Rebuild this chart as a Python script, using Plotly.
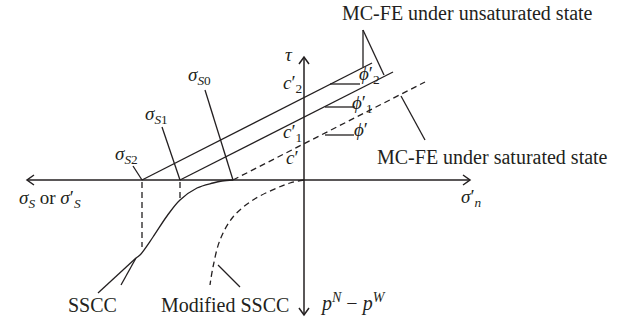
import plotly.graph_objects as go

# Diagram drawn in a pixel frame (x right, y down) matching the 633x321 picture
W, H = 633, 321

# axes
h_axis_x = [27, 470]
h_axis_y = [180, 180]
v_axis_x = [304, 304]
v_axis_y = [57, 315]

# failure envelopes (MC-FE)
upper_x = [142, 372]
upper_y = [180, 63]
middle_x = [180, 393]
middle_y = [180, 72]
sat_x = [233, 425]
sat_y = [180, 82]

# soil suction characteristic curves
sscc_x = [233, 222, 213, 197, 180, 167, 153, 140, 136]
sscc_y = [180, 181, 183, 188, 200, 216, 237, 255, 258]
sscc_tail_x = [136, 98]
sscc_tail_y = [258, 293]
mod_sscc_x = [304, 290, 277, 253, 233, 220, 213, 210]
mod_sscc_y = [180, 183, 188, 200, 217, 240, 267, 285]

# friction angle reference ticks
phi2_x, phi2_y = [330, 360], [84, 84]
phi1_x, phi1_y = [325, 355], [107, 107]
phi0_x, phi0_y = [325, 354], [135, 135]

# drop lines from sigma_S points
drop2_x, drop2_y = [142, 142], [182, 247]
drop1_x, drop1_y = [180, 180], [182, 200]

# leader lines
leaders = [
    ([205, 233], [90, 180]),      # sigma_S0
    ([162, 180], [127, 180]),     # sigma_S1
    ([133, 142], [166, 180]),     # sigma_S2
    ([136, 121], [258, 285]),     # SSCC
    ([218, 240], [265, 287]),     # Modified SSCC
    ([401, 425], [96, 140]),      # saturated state
    ([363, 363], [30, 67]),       # unsaturated state (vertical)
    ([363, 384], [30, 75]),       # unsaturated state (diagonal)
]

# arrow heads (open, drawn as two strokes)
arrows = [
    ([34, 27, 34], [175, 180, 185]),
    ([463, 470, 463], [175, 180, 185]),
    ([299, 304, 309], [64, 57, 64]),
    ([299, 304, 309], [308, 315, 308]),
]

# (text, x, y, size)
labels = [
    ("MC-FE under unsaturated state", 467, 13, 20),
    ("MC-FE under saturated state", 492, 157, 20),
    ("<i>σ</i><sub><i>S</i>0</sub>", 199, 76, 19),
    ("<i>σ</i><sub><i>S</i>1</sub>", 156, 115, 19),
    ("<i>σ</i><sub><i>S</i>2</sub>", 126, 155, 19),
    ("<i>τ</i>", 289, 54, 19),
    ("<i>c</i>′<sub>2</sub>", 292, 84, 19),
    ("<i>c</i>′<sub>1</sub>", 292, 133, 19),
    ("<i>c</i>′", 292, 157, 19),
    ("<i>ϕ</i>′<sub>2</sub>", 369, 75, 19),
    ("<i>ϕ</i>′<sub>1</sub>", 362, 104, 19),
    ("<i>ϕ</i>′", 361, 129, 19),
    ("<i>σ</i>′<sub><i>n</i></sub>", 471, 198, 19),
    ("<i>σ</i><sub><i>S</i></sub> or <i>σ</i>′<sub><i>S</i></sub>", 50, 199, 19),
    ("<i>p</i><sup><i>N</i></sup> − <i>p</i><sup><i>W</i></sup>", 353, 302, 20),
    ("SSCC", 92, 305, 20),
    ("Modified SSCC", 225, 305, 20),
]

INK = "#231f20"
FONT = "Liberation Serif"

fig = go.Figure()


def seg(x, y, dash=None, shape="linear", width=1.3):
    fig.add_trace(go.Scatter(
        x=x, y=y, mode="lines", hoverinfo="skip",
        line=dict(color=INK, width=width, dash=dash, shape=shape),
    ))


seg(h_axis_x, h_axis_y, width=1.5)
seg(v_axis_x, v_axis_y, width=1.5)
seg(upper_x, upper_y)
seg(middle_x, middle_y)
seg(sat_x, sat_y, dash="6px,4px")
seg(sscc_x, sscc_y, shape="spline")
seg(sscc_tail_x, sscc_tail_y)
seg(mod_sscc_x, mod_sscc_y, dash="6px,4px", shape="spline")
seg(phi2_x, phi2_y)
seg(phi1_x, phi1_y)
seg(phi0_x, phi0_y)
seg(drop2_x, drop2_y, dash="6px,4px")
seg(drop1_x, drop1_y, dash="6px,4px")
for lx, ly in leaders:
    seg(lx, ly)
for ax_, ay_ in arrows:
    seg(ax_, ay_, width=1.5)

for txt, tx, ty, sz in labels:
    fig.add_annotation(
        x=tx, y=ty, text=txt, showarrow=False,
        font=dict(family=FONT, size=sz, color=INK),
        xanchor="center", yanchor="middle",
    )

fig.update_layout(
    width=W, height=H,
    margin=dict(l=0, r=0, t=0, b=0),
    paper_bgcolor="white", plot_bgcolor="white",
    showlegend=False,
    xaxis=dict(range=[0, W], visible=False, fixedrange=True),
    yaxis=dict(range=[H, 0], visible=False, fixedrange=True),
)

# drop the browser's default body margin so the frame sits at the page corner
fig.write_html(
    "out.html",
    config={"displayModeBar": False},
    post_script="document.body.style.margin='0px';",
)
